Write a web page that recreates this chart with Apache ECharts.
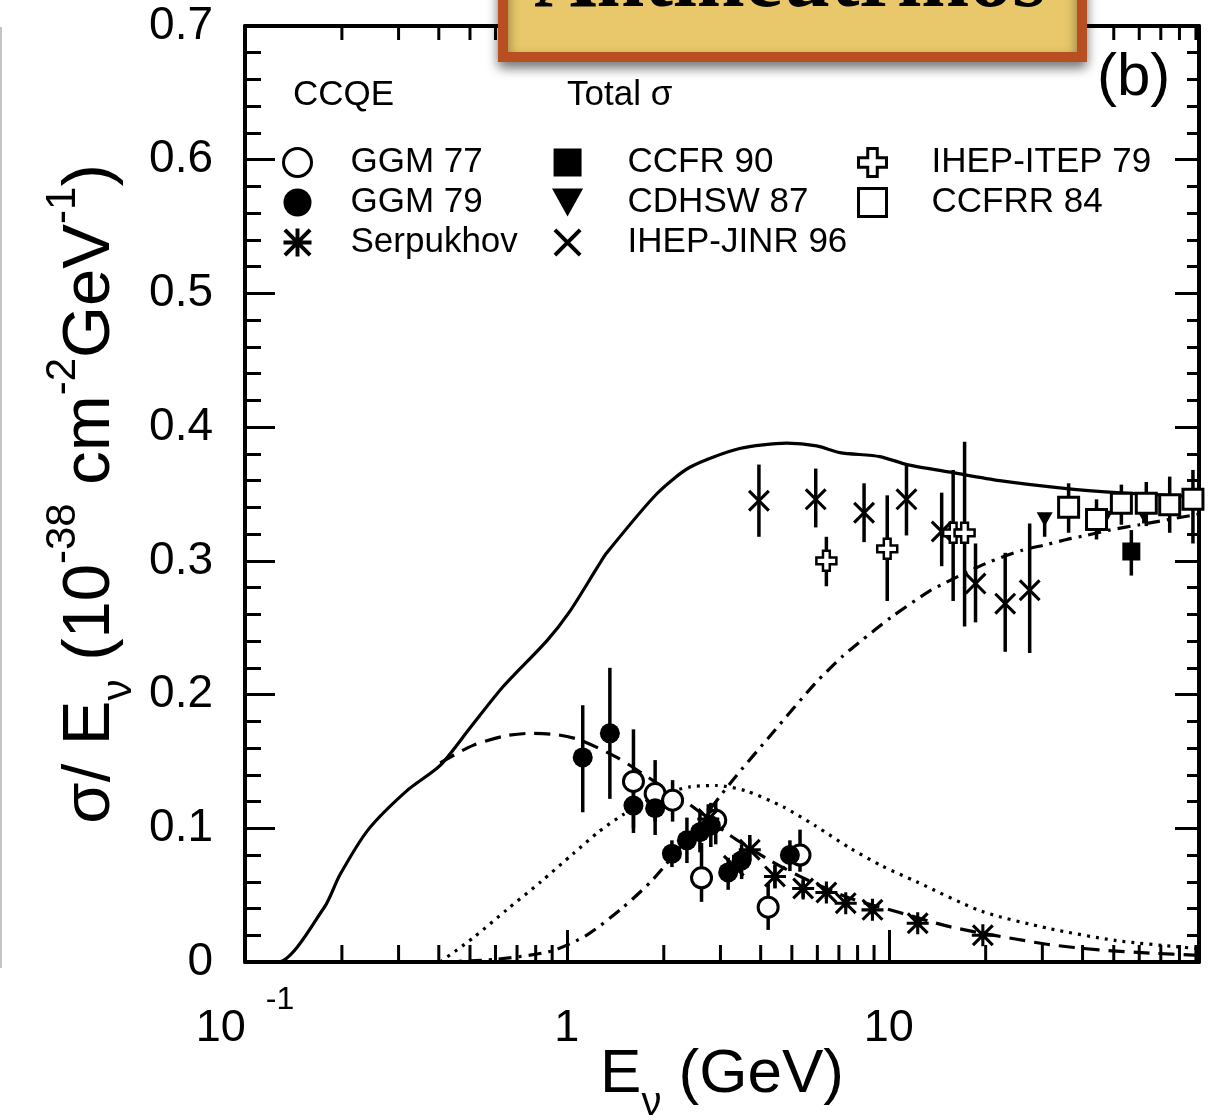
<!DOCTYPE html>
<html><head><meta charset="utf-8">
<script src="https://cdn.jsdelivr.net/npm/echarts@6/dist/echarts.min.js"></script>
<style>html,body{margin:0;padding:0;background:#fff}#c{width:1208px;height:1120px}</style>
</head><body><div id="c"></div>
<script>
// ---------- data ----------
// theory curves: [E (GeV), sigma/E]
const totalSigmaCurve = [[0.1,0],[0.127,0],[0.177,0.0415],[0.197,0.065],[0.2415,0.099],[0.318,0.128],[0.404,0.147],[0.50,0.175],[0.634,0.206],[0.865,0.240],[1.02,0.262],[1.25,0.296],[1.33,0.306],[1.90,0.350],[2.41,0.370],[3.44,0.384],[4.82,0.388],[5.97,0.386],[7.05,0.381],[9.38,0.378],[11.4,0.372],[15.8,0.366],[22.1,0.360],[35.7,0.354],[51.1,0.351],[73,0.349],[92,0.348]];
const ccqeCurve = [[0.404,0.149],[0.511,0.162],[0.64,0.169],[0.767,0.171],[0.93,0.170],[1.10,0.166],[1.43,0.153],[1.9,0.134],[2.4,0.118],[3.2,0.095],[4.2,0.077],[5.3,0.064],[7.5,0.048],[10.8,0.037],[15.1,0.027],[20,0.021],[25,0.017],[31.6,0.013],[45,0.009],[64.6,0.0067],[92,0.005]];
const dottedCurve = [[0.404,0],[0.511,0.018],[0.65,0.039],[0.83,0.060],[1.046,0.081],[1.25,0.097],[1.49,0.110],[1.9,0.124],[2.41,0.131],[2.92,0.132],[3.6,0.128],[4.7,0.116],[5.9,0.102],[7.6,0.085],[9.5,0.072],[12.2,0.060],[19.4,0.038],[31.6,0.025],[51,0.016],[82,0.011],[92,0.010]];
const dashDotCurve = [[0.40,0],[0.6,0.002],[0.89,0.008],[1.15,0.020],[1.48,0.040],[1.855,0.062],[2.45,0.097],[3.25,0.135],[4.38,0.172],[5.89,0.208],[7.21,0.229],[8.1,0.239],[10.2,0.258],[13.3,0.277],[15.1,0.284],[20,0.298],[26,0.308],[30.7,0.312],[35.7,0.316],[41,0.319],[48.5,0.323],[60,0.327],[92,0.335]];

// measurements: [E, value, errLow, errHigh]
const ggm77 = [[1.61,0.135,0.100,0.174],[1.88,0.126,0.105,0.151],[2.13,0.121,0.105,0.136],[2.62,0.063,0.045,0.089],[2.9,0.106,0.088,0.120],[4.22,0.041,0.024,0.059],[5.30,0.080,0.0675,0.099]];
const ggm79 = [[1.12,0.153,0.112,0.192],[1.36,0.171,0.122,0.220],[1.61,0.117,0.0965,0.135],[1.88,0.115,0.095,0.130],[2.12,0.081,0.071,0.091],[2.36,0.091,0.074,0.108],[2.59,0.097,0.082,0.112],[2.8,0.102,0.086,0.119],[3.17,0.067,0.054,0.078],[3.49,0.076,0.062,0.088],[4.93,0.080,0.068,0.091]];
const serpukhov = [[2.75,0.107,0.099,0.118],[3.3,0.072,0.064,0.080],[3.7,0.084,0.076,0.095],[4.43,0.064,0.055,0.073],[5.42,0.055,0.048,0.061],[6.40,0.052,0.047,0.057],[7.35,0.044,0.040,0.048],[8.9,0.039,0.035,0.043],[12.3,0.029,0.026,0.032],[19.6,0.020,0.017,0.023]];
const ccfr90 = [[56.7,0.307,0.289,0.323]];
const cdhsw87 = [[30.5,0.331,0.318,0.334],[47,0.332,0.325,0.339],[62,0.334,0.328,0.340]];
const ihepJinr96 = [[3.95,0.345,0.318,0.372],[5.93,0.346,0.325,0.369],[8.38,0.336,0.314,0.358],[11.35,0.346,0.319,0.373],[14.6,0.322,0.296,0.351],[18.6,0.283,0.254,0.313],[23.0,0.268,0.232,0.306],[27.4,0.278,0.231,0.328]];
const ihepItep79 = [[6.40,0.300,0.281,0.318],[9.89,0.309,0.270,0.349],[15.85,0.321,0.270,0.368],[17.2,0.321,0.251,0.389]];
const ccfrr84 = [[36.2,0.340,0.321,0.358],[44.2,0.331,0.316,0.346],[52.8,0.343,0.327,0.357],[63.1,0.343,0.326,0.359],[74.6,0.342,0.321,0.363],[88.1,0.346,0.313,0.368]];

// axis ticks
const xMajorTicks = [0.1, 1, 10];
const xTickTexts = ['{b|10}{sup|-1}', '{b|1}', '{b|10}'];
const xMinorTicks = [0.2,0.3,0.4,0.5,0.6,0.7,0.8,0.9,2,3,4,5,6,7,8,9,20,30,40,50,60,70,80,90];
const xMin = 0.1, xMax = 92, yMin = 0, yMax = 0.7, yStep = 0.1;

// ---------- symbols ----------
const P_ASTER = 'path://M4.3,0 L5.7,0 L5.7,10 L4.3,10 Z M0,4.3 L10,4.3 L10,5.7 L0,5.7 Z M0,1 L1,0 L10,9 L9,10 Z M9,0 L10,1 L1,10 L0,9 Z';
const P_X = 'path://M0,1 L1,0 L10,9 L9,10 Z M9,0 L10,1 L1,10 L0,9 Z';
const P_PLUS = 'path://M3.3,0 L6.7,0 L6.7,3.3 L10,3.3 L10,6.7 L6.7,6.7 L6.7,10 L3.3,10 L3.3,6.7 L0,6.7 L0,3.3 L3.3,3.3 Z';
const P_SQ = 'path://M0,0 L10,0 L10,10 L0,10 Z';
const P_TRI = 'path://M0,0 L10,0 L5,9 Z';

const FONT = 'Liberation Sans';
const BLACK = '#000';

function errorBars(data) {
  return {
    type: 'custom', data: data, silent: true, z: 3,
    encode: {x: 0, y: 1},
    renderItem: function (params, api) {
      const x = api.value(0), lo = api.value(2), hi = api.value(3);
      const a = api.coord([x, lo]), b = api.coord([x, hi]);
      return {type: 'line', shape: {x1: a[0], y1: a[1], x2: b[0], y2: b[1]}, style: {stroke: BLACK, lineWidth: 3.5}};
    }
  };
}
function marker(name, data, symbol, size, filled, bw) {
  return {
    type: 'scatter', name: name, data: data, symbol: symbol, symbolSize: size, z: 5,
    symbolKeepAspect: true,
    itemStyle: filled ? {color: BLACK, borderWidth: 0, opacity: 1}
                      : {color: '#fff', borderColor: BLACK, borderWidth: bw || 3, opacity: 1}
  };
}
function curve(data, type) {
  return {type: 'line', data: data, showSymbol: false, smooth: 0.25, silent: true, z: 2,
          lineStyle: {color: BLACK, width: 3.2, type: type}};
}

const minorTickSeries = {
  type: 'custom', silent: true, z: 6, data: xMinorTicks.map(v => [v, yMin]),
  renderItem: function (params, api) {
    const v = api.value(0);
    const b = api.coord([v, yMin]);
    const t = api.coord([v, yMax]);
    return {type: 'group', children: [
      {type: 'line', shape: {x1: b[0], y1: b[1], x2: b[0], y2: b[1] - 17}, style: {stroke: BLACK, lineWidth: 3}},
      {type: 'line', shape: {x1: t[0], y1: t[1], x2: t[0], y2: t[1] + 14}, style: {stroke: BLACK, lineWidth: 3}}
    ]};
  }
};

function legendCol(left, width, items) {
  return {
    orient: 'vertical', left: left, top: 145, itemWidth: width, itemHeight: 28, itemGap: 5,
    selectedMode: false, padding: 0,
    textStyle: {fontFamily: FONT, fontSize: 35, color: BLACK},
    data: items
  };
}
const openStyle = {color: '#fff', borderColor: BLACK, borderWidth: 3};
const fillStyle = {color: BLACK, borderColor: BLACK, borderWidth: 0};

const option = {
  animation: false,
  backgroundColor: '#fff',
  textStyle: {fontFamily: FONT},
  grid: {left: 245, right: 9, top: 26, bottom: 158, show: false, containLabel: false, outerBoundsMode: 'none'},
  xAxis: [{
    type: 'log', logBase: 10, min: xMin, max: xMax, position: 'bottom',
    axisLine: {show: true, onZero: false, lineStyle: {color: BLACK, width: 4}},
    axisTick: {show: true, inside: true, length: 32, lineStyle: {color: BLACK, width: 3}},
    splitLine: {show: false},
    axisLabel: {
      margin: 22, color: BLACK,
      formatter: function (v) {
        for (let i = 0; i < xMajorTicks.length; i++) {
          if (Math.abs(Math.log10(v) - Math.log10(xMajorTicks[i])) < 1e-6) return xTickTexts[i];
        }
        return '';
      },
      rich: {
        b: {fontFamily: FONT, fontSize: 45, lineHeight: 90, color: BLACK},
        sup: {fontFamily: FONT, fontSize: 32, verticalAlign: 'top', color: BLACK, padding: [0, 0, 0, 20]}
      }
    },
    name: '{t|E}{sub|ν}{t| (GeV)}', nameLocation: 'middle', nameGap: 64, nameMoveOverlap: false,
    nameTextStyle: {rich: {
      t: {fontFamily: FONT, fontSize: 62, lineHeight: 98, color: BLACK},
      sub: {fontFamily: FONT, fontSize: 40, verticalAlign: 'bottom', color: BLACK}
    }}
  }, {
    type: 'log', logBase: 10, min: xMin, max: xMax, position: 'top',
    axisLine: {show: true, onZero: false, lineStyle: {color: BLACK, width: 4}},
    axisTick: {show: true, inside: true, length: 28, lineStyle: {color: BLACK, width: 3}},
    axisLabel: {show: false}, splitLine: {show: false}
  }],
  yAxis: [{
    type: 'value', min: yMin, max: yMax, interval: yStep, position: 'left',
    axisLine: {show: true, onZero: false, lineStyle: {color: BLACK, width: 4}},
    axisTick: {show: true, inside: true, length: 30, lineStyle: {color: BLACK, width: 3}},
    minorTick: {show: true, splitNumber: 5, length: 16, lineStyle: {color: BLACK, width: 3}},
    splitLine: {show: false},
    axisLabel: {fontFamily: FONT, fontSize: 46, color: BLACK, margin: 32},
    name: '{t|σ/ E}{sub|ν}{t| (10}{sup|-38}{t| cm}{sup|-2}{t|GeV}{sup|-1}{t|)}',
    nameLocation: 'middle', nameRotate: 90, nameGap: 105, nameMoveOverlap: false,
    nameTextStyle: {rich: {
      t: {fontFamily: FONT, fontSize: 67, lineHeight: 98, color: BLACK},
      sup: {fontFamily: FONT, fontSize: 42, verticalAlign: 'top', color: BLACK},
      sub: {fontFamily: FONT, fontSize: 42, verticalAlign: 'bottom', color: BLACK}
    }}
  }, {
    type: 'value', min: yMin, max: yMax, interval: yStep, position: 'right',
    axisLine: {show: true, onZero: false, lineStyle: {color: BLACK, width: 4}},
    axisTick: {show: true, inside: true, length: 24, lineStyle: {color: BLACK, width: 3}},
    minorTick: {show: true, splitNumber: 5, length: 12, lineStyle: {color: BLACK, width: 3}},
    splitLine: {show: false}, axisLabel: {show: false}
  }],
  legend: [
    legendCol(282, 96, [
      {name: 'GGM 77', icon: 'circle', itemStyle: openStyle},
      {name: 'GGM 79', icon: 'circle', itemStyle: fillStyle},
      {name: 'Serpukhov', icon: P_ASTER, itemStyle: fillStyle}
    ]),
    legendCol(552, 110, [
      {name: 'CCFR 90', icon: P_SQ, itemStyle: fillStyle},
      {name: 'CDHSW 87', icon: P_TRI, itemStyle: fillStyle},
      {name: 'IHEP-JINR 96', icon: P_X, itemStyle: fillStyle}
    ]),
    legendCol(857, 108, [
      {name: 'IHEP-ITEP 79', icon: P_PLUS, itemStyle: openStyle},
      {name: 'CCFRR 84', icon: P_SQ, itemStyle: openStyle}
    ])
  ],
  graphic: [
    {type: 'line', shape: {x1: 1, y1: 27, x2: 1, y2: 968}, style: {stroke: '#c4c4c4', lineWidth: 2}, z: 1},
    {type: 'text', x: 293, y: 95, z: 10, style: {text: 'CCQE', font: '35px "Liberation Sans"', fill: BLACK, align: 'left', verticalAlign: 'middle'}},
    {type: 'text', x: 567, y: 95, z: 10, style: {text: 'Total σ', font: '35px "Liberation Sans"', fill: BLACK, align: 'left', verticalAlign: 'middle'}},
    {type: 'text', x: 1097, y: 78, z: 10, style: {text: '(b)', font: '60px "Liberation Sans"', fill: BLACK, align: 'left', verticalAlign: 'middle'}},
    {type: 'rect', z: 100, shape: {x: 503, y: -40, width: 579, height: 97},
     style: {fill: '#E8C86A', stroke: '#B84E22', lineWidth: 10, shadowBlur: 12, shadowColor: 'rgba(0,0,0,0.45)', shadowOffsetY: 6}},
    {type: 'text', z: 101, x: 790, y: -16,
     style: {text: 'Antineutrinos', font: 'bold 86px "Liberation Serif"', fill: BLACK, align: 'center', verticalAlign: 'middle'}}
  ],
  series: [
    curve(totalSigmaCurve, 'solid'),
    curve(ccqeCurve, [16, 9]),
    curve(dottedCurve, [3, 6]),
    curve(dashDotCurve, [13, 7, 3, 7]),
    errorBars(ggm77), errorBars(ggm79), errorBars(serpukhov), errorBars(ccfr90),
    errorBars(cdhsw87), errorBars(ihepJinr96), errorBars(ihepItep79), errorBars(ccfrr84),
    marker('GGM 77', ggm77, 'circle', 20, false),
    marker('GGM 79', ggm79, 'circle', 20, true),
    marker('Serpukhov', serpukhov, P_ASTER, 22, true),
    marker('CCFR 90', ccfr90, P_SQ, 18, true),
    marker('CDHSW 87', cdhsw87, P_TRI, 16, true),
    marker('IHEP-JINR 96', ihepJinr96, P_X, 22, true),
    marker('IHEP-ITEP 79', ihepItep79, P_PLUS, 20, false, 2.5),
    marker('CCFRR 84', ccfrr84, P_SQ, 20, false),
    minorTickSeries
  ]
};

const chart = echarts.init(document.getElementById('c'), null, {renderer: 'canvas'});
chart.setOption(option);
</script>
</body></html>
